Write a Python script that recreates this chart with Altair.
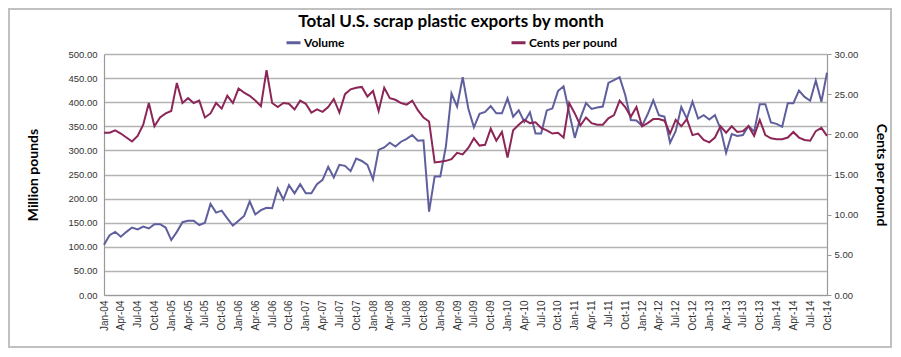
import altair as alt
import pandas as pd

# ---------------- data ----------------
MONTH_ABBR = ["Jan", "Feb", "Mar", "Apr", "May", "Jun",
              "Jul", "Aug", "Sep", "Oct", "Nov", "Dec"]
YEARS = list(range(2004, 2015))
months = [f"{m}-{y % 100:02d}" for y in YEARS for m in MONTH_ABBR][:130]  # Jan-04 .. Oct-14
tick_labels = months[::3]

# Volume, million pounds (left axis)
volume = [
    104, 124, 131, 121, 131, 140, 136, 142, 138, 147, 147, 140,   # 2004
    114, 131, 151, 154, 154, 145, 150, 189, 171, 175, 159, 144,   # 2005
    154, 164, 194, 167, 176, 181, 180, 221, 198, 228, 211, 230,   # 2006
    211, 211, 230, 239, 266, 244, 270, 268, 257, 283, 278, 270,   # 2007
    240, 301, 306, 316, 308, 318, 324, 332, 320, 321, 173, 246,   # 2008
    246, 308, 418, 391, 452, 387, 348, 376, 380, 392, 377, 377,   # 2009
    408, 370, 383, 359, 379, 335, 335, 383, 387, 423, 433, 378,   # 2010
    326, 367, 398, 386, 389, 391, 440, 446, 452, 415, 363, 362,   # 2011
    351, 375, 404, 373, 370, 316, 340, 390, 366, 401, 366, 373,   # 2012
    364, 373, 345, 295, 334, 330, 332, 351, 339, 396, 396, 358,   # 2013
    355, 349, 398, 398, 424, 411, 403, 445, 401, 461,             # 2014
]

# Cents per pound (right axis)
cents = [
    20.2, 20.2, 20.5, 20.1, 19.6, 19.1, 19.8, 21.2, 23.9, 21.0, 22.1, 22.6,   # 2004
    22.9, 26.4, 23.9, 24.5, 23.9, 24.2, 22.1, 22.6, 23.9, 23.2, 24.8, 23.9,   # 2005
    25.7, 25.2, 24.8, 24.2, 23.5, 28.0, 23.9, 23.4, 23.9, 23.8, 23.1, 24.2,   # 2006
    23.8, 22.7, 23.1, 22.8, 23.4, 24.4, 22.7, 25.0, 25.6, 25.8, 25.9, 24.7,   # 2007
    25.4, 22.9, 25.8, 24.5, 24.3, 23.9, 23.7, 24.2, 23.0, 22.1, 21.6, 16.5,   # 2008
    16.6, 16.7, 16.9, 17.7, 17.5, 18.3, 19.5, 18.6, 18.7, 20.7, 19.2, 20.3,   # 2009
    17.1, 20.5, 21.2, 21.8, 21.4, 21.5, 20.8, 20.5, 20.1, 20.2, 19.6, 23.9,   # 2010
    22.6, 21.1, 22.1, 21.4, 21.2, 21.2, 22.0, 22.4, 24.2, 23.4, 22.2, 23.4,   # 2011
    21.0, 21.4, 21.9, 21.9, 21.7, 20.1, 21.8, 21.0, 21.9, 19.9, 20.1, 19.3,   # 2012
    19.0, 19.6, 21.0, 20.2, 21.0, 20.3, 20.4, 21.0, 19.8, 21.8, 19.9, 19.5,   # 2013
    19.4, 19.4, 19.6, 20.3, 19.6, 19.3, 19.2, 20.4, 20.8, 19.8,               # 2014
]

series_names = ["Volume", "Cents per pound"]
series_colors = ["#5f5f9e", "#8c2657"]
left_ticks = list(range(0, 501, 50))
right_ticks = list(range(0, 31, 5))
chart_title = "Total U.S. scrap plastic exports by month"
left_title = "Million pounds"
right_title = "Cents per pound"

# ---------------- styling ----------------
W, H = 723, 241
PAD = {"left": 96, "top": 46, "right": 66, "bottom": 54}
TITLE_FONT = "Lato"
TICK_FONT = "Liberation Sans"
GRID = "#b3b3b3"
AXIS = "#9a9a9a"
LABEL = "#333333"

df_vol = pd.DataFrame({"month": months, "value": volume, "series": series_names[0]})
df_cents = pd.DataFrame({"month": months, "value": cents, "series": series_names[1]})

legend = alt.Legend(
    title=None, orient="none", legendX=181, legendY=-20, direction="horizontal",
    symbolType="stroke", symbolStrokeWidth=3, symbolSize=196,
    labelFont=TITLE_FONT, labelFontSize=12, labelFontWeight="bold", labelColor="#000000",
    labelOffset=2, columnPadding=160,
)
color = alt.Color("series:N", scale=alt.Scale(domain=series_names, range=series_colors), legend=legend)

x_enc = alt.X(
    "month:N", sort=None, scale=alt.Scale(type="point", padding=0),
    axis=alt.Axis(values=tick_labels, labelAngle=270, title=None, ticks=False,
                  labelPadding=5, labelFont=TICK_FONT, labelFontSize=10, labelColor=LABEL,
                  domainColor=AXIS, domainWidth=1.2, grid=False),
)

vol_line = alt.Chart(df_vol).mark_line(strokeWidth=2).encode(
    x=x_enc,
    y=alt.Y("value:Q", scale=alt.Scale(domain=[0, 500], nice=False),
            axis=alt.Axis(values=left_ticks, format=".2f", title=left_title,
                          titleFont=TITLE_FONT, titleFontSize=14, titleFontWeight="bold",
                          titleColor="#000000", titlePadding=27,
                          labelFont=TICK_FONT, labelFontSize=9.5, labelColor=LABEL,
                          ticks=False, labelPadding=7, grid=True, gridColor=GRID,
                          gridWidth=1.3, domainColor=AXIS, domainWidth=1.2)),
    color=color,
)

cents_line = alt.Chart(df_cents).mark_line(strokeWidth=2).encode(
    x=x_enc,
    y=alt.Y("value:Q", scale=alt.Scale(domain=[0, 30], nice=False),
            axis=alt.Axis(orient="right", values=right_ticks, format=".2f", title=right_title,
                          titleFont=TITLE_FONT, titleFontSize=14, titleFontWeight="bold",
                          titleColor="#000000", titleAngle=90, titlePadding=16,
                          labelFont=TICK_FONT, labelFontSize=9.5, labelColor=LABEL,
                          ticks=True, tickSize=4, tickColor=AXIS, labelPadding=3,
                          grid=False, domainColor=AXIS, domainWidth=1.2)),
    color=color,
)

one = pd.DataFrame({"k": [0]})
title_mark = alt.Chart(one).mark_text(
    font=TITLE_FONT, fontSize=17, fontWeight="bold", color="#000000",
    align="center", baseline="middle",
).encode(x=alt.value(347), y=alt.value(-32), text=alt.value(chart_title))

frame = alt.Chart(one).mark_rect(
    fillOpacity=0, stroke="#c0c0c0", strokeWidth=2,
).encode(x=alt.value(-95), x2=alt.value(W + PAD["right"] - 2),
         y=alt.value(-45), y2=alt.value(H + PAD["bottom"] - 2))

chart = (
    alt.layer(frame, vol_line, cents_line, title_mark)
    .resolve_scale(y="independent")
    .properties(width=W, height=H, autosize=alt.AutoSizeParams(type="none"), padding=PAD)
    .configure_view(stroke=None)
)

chart.save("out.html", embed_options={"renderer": "svg", "actions": False})
